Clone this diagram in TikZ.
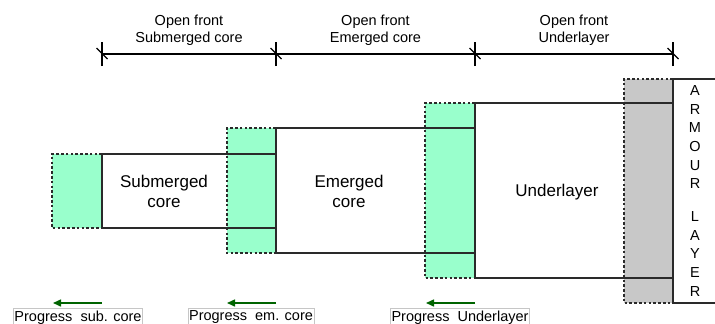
\documentclass[tikz,border=0pt]{standalone}
\usepackage{fontspec}
\setmainfont{Liberation Sans}
\usetikzlibrary{arrows.meta}
\definecolor{mint}{HTML}{99FFCC}
\definecolor{armgray}{HTML}{C8C8C8}
\definecolor{darkline}{HTML}{2A2A2A}
\definecolor{arrgreen}{HTML}{006400}
\begin{document}
\begin{tikzpicture}[x=1pt,y=-1pt,
  font=\fontsize{14.5}{17}\selectfont,
  outline/.style={draw=darkline,line width=1.15pt},
  dashedge/.style={draw=darkline,line width=1.1pt,dash pattern=on 2.6pt off 2.2pt},
  dimline/.style={draw=black,line width=1.1pt},
  lbl/.style={align=center,inner sep=0pt},
  biglbl/.style={lbl,font=\fontsize{17}{20}\selectfont},
  prog/.style={draw=gray!45,line width=0.8pt,inner xsep=1pt,inner ysep=2.5pt,anchor=north},
  parr/.style={-{Triangle[length=8pt,width=7pt]},draw=arrgreen,line width=1.5pt}]
\useasboundingbox (0,0) rectangle (715,324);

% front zones (fills)
\fill[mint] (52,154) rectangle (102,228);
\fill[mint] (227,128) rectangle (276,253);
\fill[mint] (425,103) rectangle (475,278);
\fill[armgray] (624,79) rectangle (673,303);

% dashed edges of the front zones
\draw[dashedge] (102,154) -- (52,154) -- (52,228) -- (102,228);
\draw[dashedge] (276,128) -- (227,128) -- (227,253) -- (276,253);
\draw[dashedge] (475,103) -- (425,103) -- (425,278) -- (475,278);
\draw[dashedge] (673,79) -- (624,79) -- (624,303) -- (673,303);

% layer outlines
\draw[outline] (276,154) -- (102,154) -- (102,228) -- (276,228);
\draw[outline] (475,128) -- (276,128) -- (276,253) -- (475,253);
\draw[outline] (673,103) -- (475,103) -- (475,278) -- (673,278);
\draw[outline] (715,79) -- (673,79) -- (673,303) -- (715,303);

% dimension line
\coordinate (t1) at (102,54);
\coordinate (t2) at (276,54);
\coordinate (t3) at (475,54);
\coordinate (t4) at (673,54);
\draw[dimline] (t1) -- (t4);
\foreach \t in {t1,t2,t3,t4}{
  \draw[dimline] ([yshift=-12pt]\t) -- ([yshift=12pt]\t);
  \draw[dimline] ([xshift=-5.5pt,yshift=6pt]\t) -- ([xshift=5.5pt,yshift=-5pt]\t);
}

% dimension labels
\node[lbl] (d1) at (189,30) {Open front\\Submerged core};
\node[lbl] (d2) at (375.5,30) {Open front\\Emerged core};
\node[lbl] (d3) at (574,30) {Open front\\Underlayer};

% layer labels
\node[biglbl] (sub) at (164,191) {Submerged\\core};
\node[biglbl] (em) at (349,191) {Emerged\\core};
\node[biglbl] (ul) at (557,192) {Underlayer};
\node[lbl,font=\fontsize{14.5}{18.6}\selectfont] (arm) at (695,191)
  {A\\R\\M\\O\\U\\R\\[14.4pt]L\\A\\Y\\E\\R};

% progress labels and arrows
\node[prog] (p1) at (78,308) {Progress~~sub. core};
\node[prog] (p2) at (251,308) {Progress~~em. core};
\node[prog] (p3) at (460,308) {Progress~~Underlayer};
\coordinate (a1s) at (102,303); \coordinate (a1e) at (53,303);
\coordinate (a2s) at (276,303); \coordinate (a2e) at (227,303);
\coordinate (a3s) at (475,303); \coordinate (a3e) at (426,303);
\draw[parr] (a1s) -- (a1e);
\draw[parr] (a2s) -- (a2e);
\draw[parr] (a3s) -- (a3e);
\end{tikzpicture}
\end{document}
